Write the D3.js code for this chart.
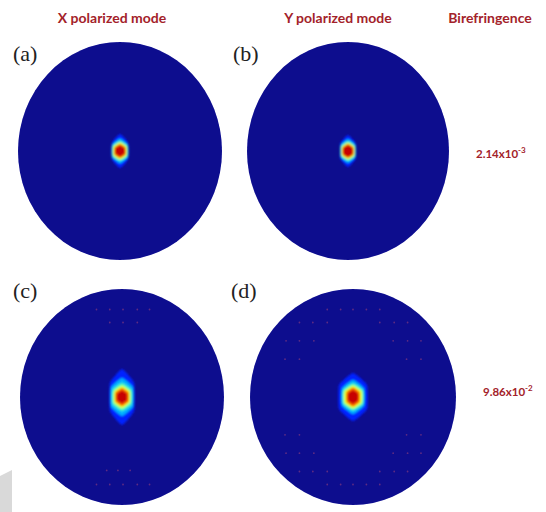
<!DOCTYPE html>
<html>
<head>
<meta charset="utf-8">
<script src="https://cdn.jsdelivr.net/npm/d3@7"></script>
<style>
  body { margin: 0; background: #fff; }
  svg { display: block; }
</style>
</head>
<body>
<svg id="chart"></svg>
<script>
// column headers and the birefringence values
const columnTitles = ["X polarized mode", "Y polarized mode", "Birefringence"];
const panelLabels = ["(a)", "(b)", "(c)", "(d)"];
const birefMantissa = ["2.14", "9.86"];
const birefExponent = ["-3", "-2"];

// normalised intensity contour levels of the mode field
const levels = [0.16, 0.3, 0.45, 0.6, 0.78, 0.93];
// half width / half height of each contour, as fraction of the fibre radius
const spotHalfWidthA = [0.078, 0.078, 0.074, 0.064, 0.054, 0.044];
const spotHalfHeightA = [0.156, 0.115, 0.092, 0.078, 0.064, 0.05];
const spotHalfWidthB = [0.074, 0.074, 0.07, 0.062, 0.054, 0.045];
const spotHalfHeightB = [0.147, 0.11, 0.09, 0.076, 0.064, 0.053];
const spotHalfWidthC = [0.118, 0.108, 0.093, 0.078, 0.064, 0.049];
const spotHalfHeightC = [0.259, 0.176, 0.13, 0.104, 0.083, 0.06];
const spotHalfWidthD = [0.136, 0.107, 0.097, 0.083, 0.063, 0.049];
const spotHalfHeightD = [0.222, 0.157, 0.125, 0.106, 0.088, 0.065];

// faint field leaking into the air holes (normalised rows: y, list of x)
const holesC = [
  {y: -0.81, x: [-0.25, -0.12, 0.01, 0.15, 0.27]},
  {y: -0.69, x: [-0.12, 0.01, 0.15]},
  {y: 0.68, x: [-0.15, -0.04, 0.08]},
  {y: 0.81, x: [-0.25, -0.12, 0.01, 0.15, 0.27]}
];
const holesD = [
  {y: -0.81, x: [-0.25, -0.12, 0, 0.13, 0.26]},
  {y: -0.69, x: [-0.52, -0.39, -0.25, 0.26, 0.4, 0.53]},
  {y: -0.52, x: [-0.65, -0.52, -0.38, 0.39, 0.53, 0.66]},
  {y: -0.35, x: [-0.66, -0.52, 0.52, 0.66]},
  {y: 0.35, x: [-0.66, -0.52, 0.52, 0.66]},
  {y: 0.52, x: [-0.65, -0.52, -0.38, 0.39, 0.53, 0.66]},
  {y: 0.69, x: [-0.52, -0.39, -0.25, 0.26, 0.4, 0.53]},
  {y: 0.81, x: [-0.25, -0.12, 0, 0.13, 0.26]}
];

const W = 546, H = 512;
const svg = d3.select("#chart").attr("width", W).attr("height", H);

// jet colour map
const jet = d3.scaleLinear()
  .domain([0, 0.125, 0.375, 0.625, 0.875, 1])
  .range(["#08088e", "#0000ff", "#00ffff", "#ffff00", "#ff0000", "#800000"])
  .interpolate(d3.interpolateRgb);

const defs = svg.append("defs");
defs.append("filter").attr("id", "soft")
  .attr("x", "-50%").attr("y", "-50%").attr("width", "200%").attr("height", "200%")
  .append("feGaussianBlur").attr("stdDeviation", 1.2);
defs.append("filter").attr("id", "edge")
  .append("feGaussianBlur").attr("stdDeviation", 0.6);

const panels = [
  {label: panelLabels[0], cx: 120, cy: 151, rx: 102, ry: 109, w: spotHalfWidthA, h: spotHalfHeightA, holes: [], lx: 13, ly: 61},
  {label: panelLabels[1], cx: 348, cy: 151, rx: 101, ry: 109, w: spotHalfWidthB, h: spotHalfHeightB, holes: [], lx: 233, ly: 61},
  {label: panelLabels[2], cx: 122, cy: 397, rx: 102, ry: 108, w: spotHalfWidthC, h: spotHalfHeightC, holes: holesC, lx: 13, ly: 298},
  {label: panelLabels[3], cx: 353, cy: 397, rx: 103, ry: 108, w: spotHalfWidthD, h: spotHalfHeightD, holes: holesD, lx: 231, ly: 298}
];

// rounded hexagon outline of a contour
const hexLine = d3.line().curve(d3.curveCardinalClosed.tension(0.6));

panels.forEach(p => {
  const x = d3.scaleLinear().domain([-1, 1]).range([p.cx - p.rx, p.cx + p.rx]);
  const y = d3.scaleLinear().domain([-1, 1]).range([p.cy - p.ry, p.cy + p.ry]);
  const g = svg.append("g");

  g.append("ellipse")
    .attr("cx", x(0)).attr("cy", y(0))
    .attr("rx", x(1) - x(0)).attr("ry", y(1) - y(0))
    .attr("fill", jet(0))
    .attr("filter", "url(#edge)");

  // air-hole speckles
  const dots = p.holes.flatMap(r => r.x.map(v => ({x: v, y: r.y})));
  g.selectAll("circle.hole").data(dots).join("circle")
    .attr("class", "hole")
    .attr("cx", d => x(d.x)).attr("cy", d => y(d.y))
    .attr("r", 0.9)
    .attr("fill", "#b04a78")
    .attr("opacity", 0.5);

  // mode spot as nested contours
  const spot = g.append("g").attr("filter", "url(#soft)");
  spot.selectAll("path").data(levels).join("path")
    .attr("d", (d, i) => {
      const w = p.w[i], h = p.h[i];
      return hexLine([[0, -h], [w, -h * 0.5], [w, h * 0.5], [0, h], [-w, h * 0.5], [-w, -h * 0.5]]
        .map(([a, b]) => [x(a), y(b)]));
    })
    .attr("fill", d => jet(d));

  svg.append("text")
    .attr("x", p.lx).attr("y", p.ly)
    .attr("font-family", "Liberation Serif, serif")
    .attr("font-size", 22)
    .attr("fill", "#222")
    .text(p.label);
});

// column titles
const titleX = [112, 338, 490];
svg.selectAll("text.title").data(columnTitles).join("text")
  .attr("class", "title")
  .attr("x", (d, i) => titleX[i]).attr("y", 23)
  .attr("text-anchor", "middle")
  .attr("font-family", "Lato, sans-serif")
  .attr("font-weight", "bold")
  .attr("font-size", 14)
  .attr("fill", "#a3222a")
  .text(d => d);

// birefringence values
const valuePos = [{x: 476, y: 158}, {x: 483, y: 396}];
birefMantissa.forEach((m, i) => {
  const t = svg.append("text")
    .attr("x", valuePos[i].x).attr("y", valuePos[i].y)
    .attr("font-family", "Lato, sans-serif")
    .attr("font-weight", "bold")
    .attr("font-size", 11.5)
    .attr("fill", "#a3222a");
  t.append("tspan").text(m + "x10");
  t.append("tspan").attr("dy", -5).attr("font-size", 8).text(birefExponent[i]);
});

// grey scrap at the lower left corner of the scan
svg.append("path")
  .attr("d", "M0,476 L12,470 L12,512 L0,512 Z")
  .attr("fill", "#d9d9d9");
</script>
</body>
</html>
